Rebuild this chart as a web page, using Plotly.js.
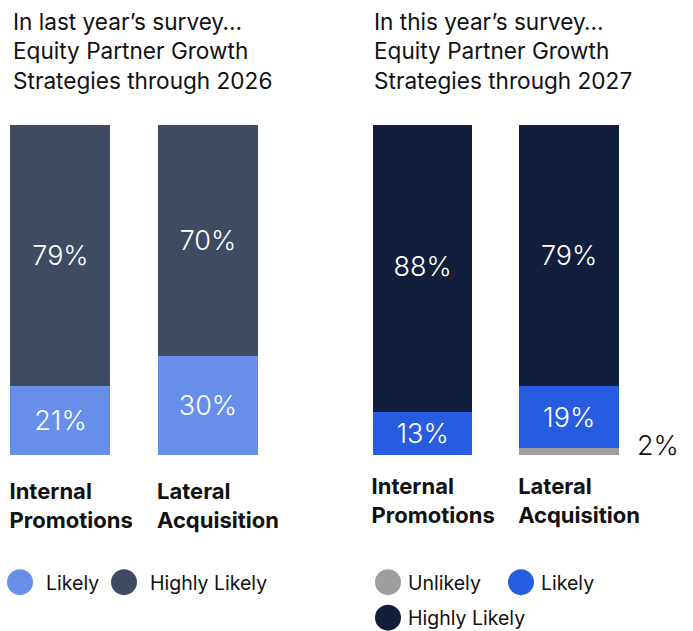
<!DOCTYPE html>
<html><head><meta charset="utf-8">
<script src="https://cdn.plot.ly/plotly-3.0.1.min.js"></script>
<style>html,body{margin:0;padding:0;background:#fff}</style>
</head><body><div id="chart" style="width:693px;height:631px"></div>
<script>
// ---- data ----
const categories = ['Internal<br>Promotions', 'Lateral<br>Acquisition'];
const lastLikely = [21, 30];
const lastHighly = [79, 70];
const thisUnlikely = [0, 2];
const thisLikely = [13, 19];
const thisHighly = [88, 79];
const seriesNames = ['Unlikely', 'Likely', 'Highly Likely'];
const panelTitles = [
  'In last year’s survey…<br>Equity Partner Growth<br>Strategies through 2026',
  'In this year’s survey…<br>Equity Partner Growth<br>Strategies through 2027'
];

const FONT = 'Inter, "Noto Sans", sans-serif';
const pct = arr => arr.map(v => v + '%');
const barText = {color: '#ffffff', size: 27, family: FONT, weight: 300};

function bar(y, name, color, xa, ya, legend, showText) {
  return {
    type: 'bar', x: categories, y: y, name: name,
    xaxis: xa, yaxis: ya, legend: legend,
    marker: {color: color, line: {width: 0}},
    text: pct(y), textposition: showText ? 'inside' : 'none',
    insidetextanchor: 'middle', textfont: barText, constraintext: 'none',
    hoverinfo: 'skip'
  };
}

const data = [
  bar(lastLikely, seriesNames[1], '#678EE8', 'x', 'y', 'legend', true),
  bar(lastHighly, seriesNames[2], '#3F4A63', 'x', 'y', 'legend', true),
  bar(thisUnlikely, seriesNames[0], '#9E9E9E', 'x2', 'y2', 'legend2', false),
  bar(thisLikely, seriesNames[1], '#285CE0', 'x2', 'y2', 'legend2', true),
  bar(thisHighly, seriesNames[2], '#111E3D', 'x2', 'y2', 'legend3', true)
];

const xCommon = {
  range: [-0.41, 1.41], showgrid: false, zeroline: false, showline: false,
  ticks: '', fixedrange: true,
  tickfont: {family: FONT, size: 22, color: '#111', weight: 700},
  ticklabelposition: 'outside right', ticklabelshift: -51
};
const yCommon = {range: [0, 100], visible: false, fixedrange: true, domain: [0.2789, 0.8019]};
const legCommon = {
  orientation: 'h', xanchor: 'left', yanchor: 'middle', traceorder: 'normal',
  font: {family: FONT, size: 19.5, color: '#111'}, bgcolor: 'rgba(0,0,0,0)',
  itemclick: false, itemdoubleclick: false, entrywidthmode: 'pixels'
};

const layout = {
  width: 693, height: 631,
  margin: {l: 0, r: 0, t: 0, b: 0, autoexpand: false},
  paper_bgcolor: '#fff', plot_bgcolor: '#fff',
  barmode: 'stack', bargap: 0.322,
  font: {family: FONT, color: '#111'},
  showlegend: true,
  xaxis: Object.assign({}, xCommon, {domain: [0, 0.3874], anchor: 'y', ticklabelstandoff: 21}),
  yaxis: Object.assign({}, yCommon, {anchor: 'x'}),
  xaxis2: Object.assign({}, xCommon, {domain: [0.523, 0.908], anchor: 'y2', ticklabelstandoff: 16}),
  yaxis2: Object.assign({}, yCommon, {anchor: 'x2'}),
  legend: Object.assign({}, legCommon, {x: 0, y: 0.0769, entrywidth: 59}),
  legend2: Object.assign({}, legCommon, {x: 0.531, y: 0.0769, entrywidth: 88}),
  legend3: Object.assign({}, legCommon, {x: 0.531, y: 0.0206}),
  annotations: [
    {xref: 'paper', yref: 'paper', x: 0.0159, y: 0.9905, xanchor: 'left', yanchor: 'top',
     align: 'left', showarrow: false, text: panelTitles[0],
     font: {family: FONT, size: 22.6, color: '#111'}},
    {xref: 'paper', yref: 'paper', x: 0.5368, y: 0.9905, xanchor: 'left', yanchor: 'top',
     align: 'left', showarrow: false, text: panelTitles[1],
     font: {family: FONT, size: 22.6, color: '#111'}},
    {xref: 'x2', yref: 'y2', x: categories[1], y: thisUnlikely[1], xanchor: 'left', yanchor: 'middle',
     xshift: 66, yshift: 3, showarrow: false, text: thisUnlikely[1] + '%',
     font: {family: FONT, size: 27, color: '#111', weight: 300}}
  ]
};

function fixLegend() {
  document.querySelectorAll('.legendpoints path').forEach(p => {
    p.setAttribute('d', 'M13,0A13,13 0 1,1 0,-13A13,13 0 0,1 13,0Z');
    p.style.strokeWidth = '0';
  });
  document.querySelectorAll('text.legendtext').forEach(t => {
    t.setAttribute('x', '46');
    t.querySelectorAll('tspan.line').forEach(s => s.setAttribute('x', '46'));
  });
  document.querySelectorAll('g.legend .scrollbox, g.legend').forEach(g => {
    g.removeAttribute('clip-path');
  });
}

const gd = document.getElementById('chart');
Plotly.newPlot(gd, data, layout, {displayModeBar: false}).then(() => {
  fixLegend();
  gd.on('plotly_afterplot', fixLegend);
});
</script>
</body></html>
